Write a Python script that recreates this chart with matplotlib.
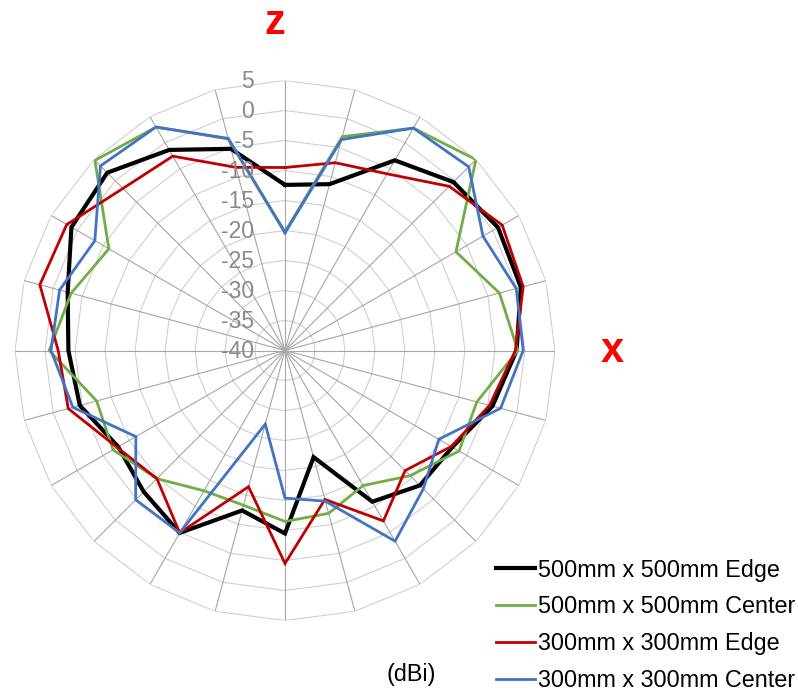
import numpy as np
import matplotlib
matplotlib.use("Agg")
import matplotlib.pyplot as plt
from matplotlib import transforms

plt.rcParams['font.family'] = ['Liberation Sans', 'DejaVu Sans']

# Angles (degrees, clockwise from top) at each spoke
angles_deg = list(range(0, 360, 15))

edge_500 = [-12.4, -11.3, -3.4, -0.3, 1.0, 0.7, -1.4, -4.2, -7.8, -8.2, -10.9, -21.6,
            -9.5, -12.4, -4.9, -6.7, -7.9, -4.6, -3.9, -2.5, 1.1, 1.9, -1.4, -5.2]
center_500 = [-20.2, -3.1, 2.8, 5.0, -7.1, -3.0, -1.2, -6.9, -6.5, -10.5, -14.0, -11.9,
              -11.5, -13.3, -13.0, -9.8, -6.9, -7.5, -0.7, -3.1, -6.1, 4.8, 3.0, -3.5]
edge_300 = [-9.5, -7.6, -6.0, -1.3, 1.8, 1.1, -1.6, -4.7, -8.0, -11.7, -7.2, -14.3,
            -4.5, -16.5, -4.9, -9.8, -7.7, -2.6, -2.2, 2.3, 2.0, -1.8, -2.6, -8.4]
center_300 = [-20.4, -3.6, 2.8, 3.3, -1.9, -0.1, -0.3, -2.8, -10.4, -7.4, -3.3, -14.0,
              -15.4, -27.3, -4.9, -4.8, -11.3, -3.4, -1.0, -1.1, -3.4, 3.5, 3.0, -3.4]

series_names = ["500mm x 500mm Edge", "500mm x 500mm Center",
                "300mm x 300mm Edge", "300mm x 300mm Center"]
series_values = [edge_500, center_500, edge_300, center_300]
series_colors = ["#000000", "#70AD47", "#C00000", "#4472C4"]
series_widths = [3.0, 2.0, 2.0, 2.0]

ring_values = [5, 0, -5, -10, -15, -20, -25, -30, -35, -40]
r_min, r_max = -40, 5

W, H = 798, 691
fig = plt.figure(figsize=(W / 100, H / 100), dpi=100)
cx, cy, R = 285, 350.5, 270
ax = fig.add_axes([(cx - R) / W, (H - cy - R) / H, 2 * R / W, 2 * R / H], projection='polar')
ax.set_theta_zero_location('N')
ax.set_theta_direction(-1)
ax.set_ylim(r_min, r_max)
ax.grid(False)
ax.set_xticks([])
ax.set_yticks([])
ax.spines['polar'].set_visible(False)
ax.patch.set_alpha(0)

theta = np.deg2rad(angles_deg)
theta_closed = np.append(theta, theta[0])

# polygon rings
for rv in ring_values[:-1]:
    ax.plot(theta_closed, [rv] * len(theta_closed), color='#cfcfcf', lw=0.8, zorder=1)
# spokes
for t in theta:
    ax.plot([t, t], [r_min, r_max], color='#a6a6a6', lw=0.8, zorder=1)

# series
for name, vals, col, lw in zip(series_names, series_values, series_colors, series_widths):
    v = np.append(vals, vals[0])
    ax.plot(theta_closed, v, color=col, lw=lw, label=name, zorder=3,
            solid_joinstyle='miter')

# tick labels along the top spoke
off = transforms.offset_copy(ax.transData, fig=fig, x=-31, y=-1, units='dots')
for rv in ring_values:
    ax.text(0, rv, str(rv), transform=off, ha='right', va='center',
            fontsize=16.5, color='#8a8a8a', zorder=4)

# axis names
fig.text(274.5 / W, 1 - 23 / H, 'z', color='#FF0000', fontsize=30, fontweight='bold',
         ha='center', va='center')
fig.text(612 / W, 1 - 351 / H, 'x', color='#FF0000', fontsize=30, fontweight='bold',
         ha='center', va='center')
fig.text(411 / W, 1 - 675 / H, '(dBi)', color='#000000', fontsize=16.8,
         ha='center', va='center')

leg = fig.legend(loc='upper left', bbox_to_anchor=(496 / W, 1 - 558.5 / H),
                 frameon=False, fontsize=16.8, handlelength=1.67, handletextpad=0.13,
                 labelspacing=0.59, borderpad=0, borderaxespad=0)

fig.savefig('out.png', dpi=100)
